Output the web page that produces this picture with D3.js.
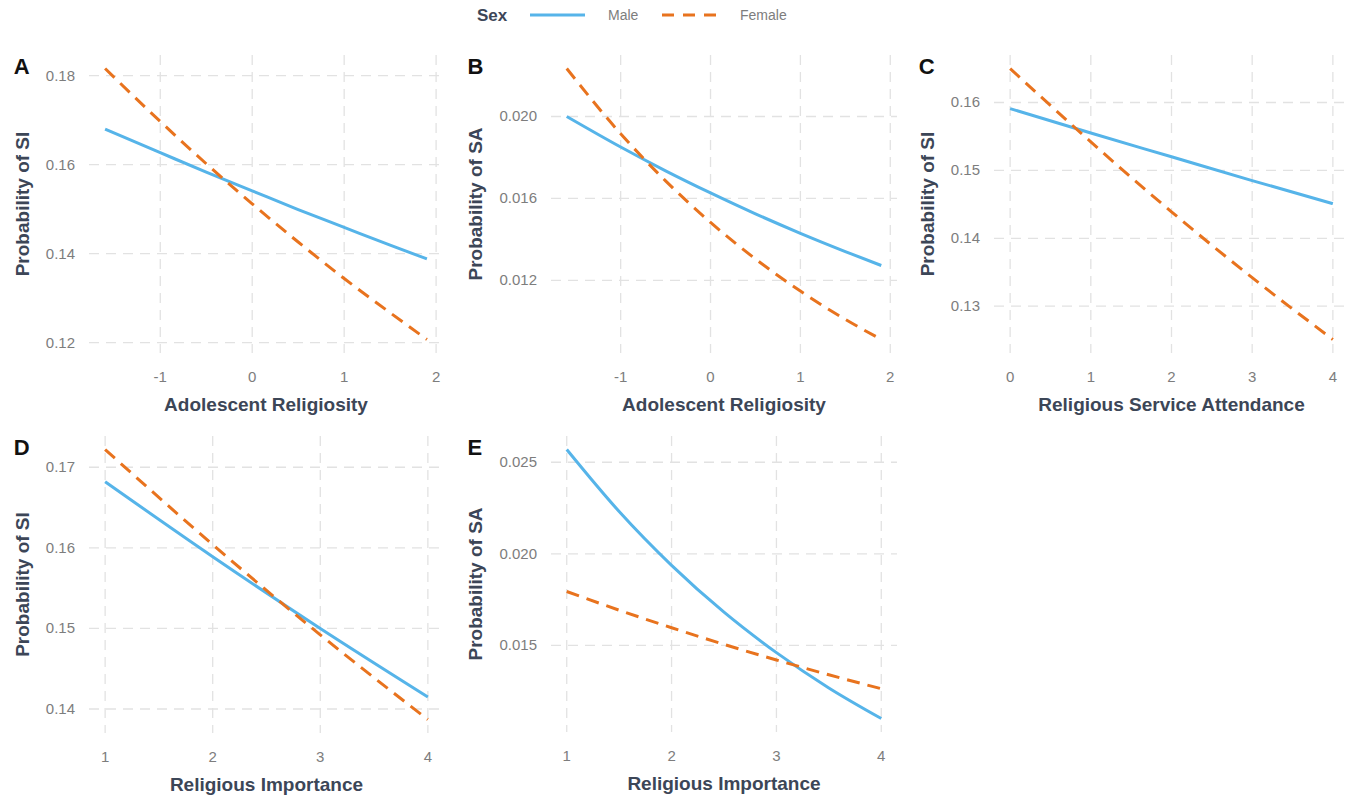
<!DOCTYPE html>
<html>
<head>
<meta charset="utf-8">
<script src="https://cdn.jsdelivr.net/npm/d3@7"></script>
<style>
  body { margin: 0; background: #fff; }
  svg { display: block; font-family: "Liberation Sans", Arial, sans-serif; }
</style>
</head>
<body>
<div id="chart"></div>
<script>
// ---- data ----
const xRelig = [-1.6, -1, -0.5, 0, 0.5, 1, 1.5, 1.9];
const maleA = [0.1680, 0.1627, 0.1583, 0.1541, 0.1499, 0.1459, 0.1419, 0.1388];
const femaleA = [0.1816, 0.1697, 0.1602, 0.1512, 0.1426, 0.1344, 0.1267, 0.1207];

const maleB = [0.0200, 0.01851, 0.01735, 0.01627, 0.01525, 0.01430, 0.01341, 0.01273];
const femaleB = [0.02234, 0.01916, 0.01686, 0.01483, 0.01305, 0.01148, 0.01010, 0.00912];

const xAttend = [0, 1, 2, 3, 4];
const maleC = [0.1591, 0.1555, 0.1520, 0.1485, 0.1451];
const femaleC = [0.1650, 0.1542, 0.1439, 0.1342, 0.1251];

const xImport = [1, 2, 3, 4];
const maleD = [0.1682, 0.1589, 0.1500, 0.1415];
const femaleD = [0.1722, 0.1604, 0.1492, 0.1387];

const xImportE = [1, 1.5, 2, 2.5, 3, 3.5, 4];
const maleE = [0.0257, 0.02231, 0.01937, 0.01681, 0.01460, 0.01267, 0.0110];
const femaleE = [0.01794, 0.01692, 0.01596, 0.01505, 0.01420, 0.01339, 0.01263];

const ticksRelig = [-1, 0, 1, 2];
const ticksAttend = [0, 1, 2, 3, 4];
const ticksImport = [1, 2, 3, 4];

const sexLabels = ["Male", "Female"];
const colors = {Male: "#56B4E9", Female: "#E8731E"};

const panels = [
  {id: "A", x: xRelig, male: maleA, female: femaleA, xt: ticksRelig, yt: [0.12, 0.14, 0.16, 0.18], fmt: ".2f",
   xlab: "Adolescent Religiosity", ylab: "Probability of SI", box: [89, 55, 443, 353]},
  {id: "B", x: xRelig, male: maleB, female: femaleB, xt: ticksRelig, yt: [0.012, 0.016, 0.020], fmt: ".3f",
   xlab: "Adolescent Religiosity", ylab: "Probability of SA", box: [551, 55, 897, 353]},
  {id: "C", x: xAttend, male: maleC, female: femaleC, xt: ticksAttend, yt: [0.13, 0.14, 0.15, 0.16], fmt: ".2f",
   xlab: "Religious Service Attendance", ylab: "Probability of SI", box: [994, 55, 1349, 353]},
  {id: "D", x: xImport, male: maleD, female: femaleD, xt: ticksImport, yt: [0.14, 0.15, 0.16, 0.17], fmt: ".2f",
   xlab: "Religious Importance", ylab: "Probability of SI", box: [89, 436, 444, 733]},
  {id: "E", x: xImportE, male: maleE, female: femaleE, xt: ticksImport, yt: [0.015, 0.020, 0.025], fmt: ".3f",
   xlab: "Religious Importance", ylab: "Probability of SA", box: [551, 436, 897, 732]}
];

const W = 1360, H = 802;
const svg = d3.select("#chart").append("svg").attr("width", W).attr("height", H);

const tickColor = "#7d7d7d", titleColor = "#3c4657", gridColor = "#e2e2e2";

// ggplot-ish 5% expansion
function padded(ext) {
  let d = (ext[1] - ext[0]) * 0.05;
  return [ext[0] - d, ext[1] + d];
}

panels.forEach(p => {
  let [x0, y0, x1, y1] = p.box;
  let allY = p.male.concat(p.female);
  let xs = d3.scaleLinear().domain(padded(d3.extent(p.x))).range([x0, x1]);
  let ys = d3.scaleLinear().domain(padded(d3.extent(allY))).range([y1, y0]);

  let g = svg.append("g");

  // grid
  g.selectAll(".vg").data(p.xt).enter().append("line")
    .attr("x1", d => xs(d)).attr("x2", d => xs(d))
    .attr("y1", y0).attr("y2", y1)
    .attr("stroke", gridColor).attr("stroke-width", 1.3).attr("stroke-dasharray", "10,7");
  g.selectAll(".hg").data(p.yt).enter().append("line")
    .attr("x1", x0).attr("x2", x1)
    .attr("y1", d => ys(d)).attr("y2", d => ys(d))
    .attr("stroke", gridColor).attr("stroke-width", 1.3).attr("stroke-dasharray", "10,7");

  // tick labels
  g.selectAll(".xl").data(p.xt).enter().append("text")
    .attr("x", d => xs(d)).attr("y", y1 + 29)
    .attr("text-anchor", "middle").attr("font-size", 15).attr("fill", tickColor)
    .text(d => d);
  let yl = g.selectAll(".yl").data(p.yt).enter().append("text")
    .attr("x", x0 - 14).attr("y", d => ys(d) + 5)
    .attr("text-anchor", "end").attr("font-size", 15).attr("fill", tickColor)
    .text(d => d3.format(p.fmt)(d));

  let minLeft = d3.min(yl.nodes(), n => n.getBBox().x);

  // axis titles
  g.append("text")
    .attr("x", (x0 + x1) / 2).attr("y", y1 + 58)
    .attr("text-anchor", "middle").attr("font-size", 19).attr("font-weight", "bold")
    .attr("fill", titleColor).text(p.xlab);
  let ty = (y0 + y1) / 2, tx = minLeft - 17;
  g.append("text")
    .attr("transform", `translate(${tx},${ty}) rotate(-90)`)
    .attr("text-anchor", "middle").attr("font-size", 19).attr("font-weight", "bold")
    .attr("fill", titleColor).text(p.ylab);

  // panel letter
  g.append("text")
    .attr("x", tx - 15).attr("y", y0 + 19)
    .attr("font-size", 22).attr("font-weight", "bold").attr("fill", "#111")
    .text(p.id);

  // lines
  let line = d3.line().x(d => xs(d[0])).y(d => ys(d[1])).curve(d3.curveMonotoneX);
  [["Male", p.male], ["Female", p.female]].forEach(([sex, vals]) => {
    g.append("path")
      .datum(p.x.map((x, i) => [x, vals[i]]))
      .attr("d", line)
      .attr("fill", "none")
      .attr("stroke", colors[sex])
      .attr("stroke-width", 3)
      .attr("stroke-dasharray", sex === "Female" ? "13,8" : null);
  });
});

// legend
let leg = svg.append("g");
leg.append("text").attr("x", 477).attr("y", 21).attr("font-size", 17).attr("font-weight", "bold")
  .attr("fill", titleColor).text("Sex");
let legX = [530, 662];
sexLabels.forEach((s, i) => {
  leg.append("line").attr("x1", legX[i]).attr("x2", legX[i] + 55).attr("y1", 15).attr("y2", 15)
    .attr("stroke", colors[s]).attr("stroke-width", 3)
    .attr("stroke-dasharray", s === "Female" ? "12,9" : null);
  leg.append("text").attr("x", legX[i] + 78).attr("y", 20).attr("font-size", 14)
    .attr("fill", tickColor).text(s);
});
</script>
</body>
</html>
